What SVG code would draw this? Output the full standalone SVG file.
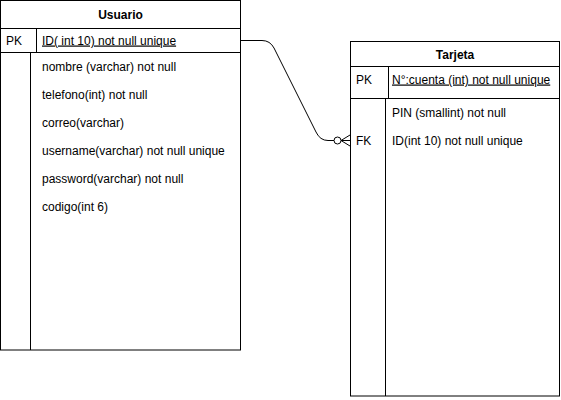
<svg xmlns="http://www.w3.org/2000/svg" width="561" height="400" viewBox="0 0 561 400">
<style>
.box{fill:#fff;stroke:#000;stroke-width:1}
.ln{fill:none;stroke:#000;stroke-width:1}
.t{font-family:"Liberation Sans",Arial,sans-serif;font-size:12px;fill:#000}
.h{font-family:"Liberation Sans",Arial,sans-serif;font-size:12px;font-weight:bold;fill:#000}
</style>
<rect width="561" height="400" fill="#fff"/>
<g id="usuario">
<rect class="box" x="0.5" y="0.5" width="240" height="349.5"/>
<line class="ln" x1="0.5" y1="28.5" x2="240.5" y2="28.5"/>
<line class="ln" x1="0.5" y1="52.5" x2="240.5" y2="52.5"/>
<line class="ln" x1="36.5" y1="28.5" x2="36.5" y2="52.5"/>
<line class="ln" x1="30.5" y1="52.5" x2="30.5" y2="350"/>
<text class="h" x="120.5" y="18.5" text-anchor="middle">Usuario</text>
<text class="t" x="6" y="44.5">PK</text>
<text class="t" x="42" y="44.5" text-decoration="underline">ID( int 10) not null unique</text>
<text class="t" x="42" y="70.5">nombre (varchar) not null</text>
<text class="t" x="42" y="98.5">telefono(int) not null</text>
<text class="t" x="42" y="126.5">correo(varchar)</text>
<text class="t" x="42" y="154.5">username(varchar) not null unique</text>
<text class="t" x="42" y="182.5">password(varchar) not null</text>
<text class="t" x="42" y="210.5">codigo(int 6)</text>
</g>
<g id="tarjeta">
<rect class="box" x="350.5" y="41.5" width="209" height="354.5"/>
<line class="ln" x1="350.5" y1="66.5" x2="559.5" y2="66.5"/>
<line class="ln" x1="350.5" y1="98.5" x2="559.5" y2="98.5"/>
<line class="ln" x1="388.5" y1="66.5" x2="388.5" y2="98.5"/>
<line class="ln" x1="385.5" y1="98.5" x2="385.5" y2="396"/>
<text class="h" x="455" y="58.5" text-anchor="middle">Tarjeta</text>
<text class="t" x="356" y="83.5">PK</text>
<text class="t" x="392" y="83.5" text-decoration="underline">N°:cuenta (int) not null unique</text>
<text class="t" x="392" y="116.5">PIN (smallint) not null</text>
<text class="t" x="356" y="144.5">FK</text>
<text class="t" x="392" y="144.5">ID(int 10) not null unique</text>
</g>
<g id="connectors">
<path class="ln" d="M240.5 40.5 L262 40.5 Q270 40.5 274 48 L316 132 Q320 140.5 328 140.5 L334 140.5"/>
<circle class="ln" cx="337.5" cy="140.5" r="3.5"/>
<path class="ln" d="M341 140.5 L350 140.5 M341 140.5 L350 135 M341 140.5 L350 146"/>
</g>
</svg>
